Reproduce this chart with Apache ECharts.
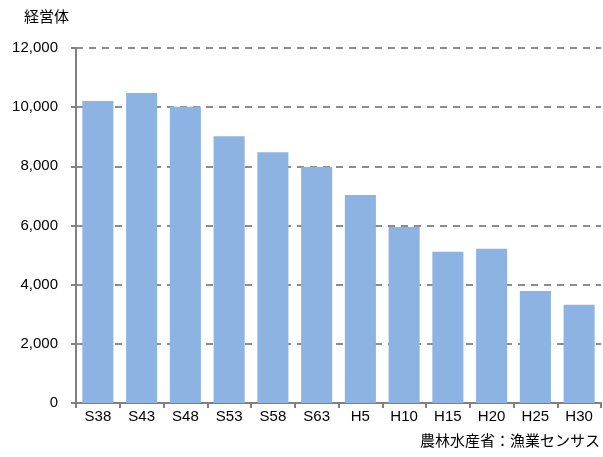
<!DOCTYPE html>
<html>
<head>
<meta charset="utf-8">
<script src="https://cdn.jsdelivr.net/npm/echarts@6/dist/echarts.min.js"></script>
<style>
  html, body { margin: 0; padding: 0; background: #fff; }
  #main { width: 603px; height: 457px; }
</style>
</head>
<body>
<div id="main"></div>
<script>
// 調査年（漁業センサス）
var years = ['S38', 'S43', 'S48', 'S53', 'S58', 'S63', 'H5', 'H10', 'H15', 'H20', 'H25', 'H30'];
// 経営体数
var counts = [10210, 10480, 10010, 9020, 8480, 7980, 7030, 5950, 5110, 5210, 3790, 3320];

var yMin = 0, yMax = 12000, yStep = 2000;

var myChart = echarts.init(document.getElementById('main'));
myChart.setOption({
  animation: false,
  textStyle: { fontFamily: 'Liberation Sans, Arial, sans-serif' },
  grid: { left: 76, right: 2, top: 48, bottom: 54 },
  graphic: [
    {
      type: 'text', left: 24, top: 9,
      style: { text: '経営体', font: '15px "Noto Sans CJK JP"', fill: '#000' }
    },
    {
      type: 'text', right: 3, top: 433,
      style: { text: '農林水産省：漁業センサス', font: '15px "Noto Sans CJK JP"', fill: '#000' }
    }
  ],
  xAxis: {
    type: 'category',
    data: years,
    axisLine: { lineStyle: { color: '#808080', width: 2 } },
    axisTick: { show: true, length: 5, lineStyle: { color: '#808080', width: 2 } },
    axisLabel: { color: '#000', fontSize: 15, margin: 6 }
  },
  yAxis: {
    type: 'value',
    min: yMin, max: yMax, interval: yStep,
    axisLine: { show: true, lineStyle: { color: '#808080', width: 2 } },
    axisTick: { show: true, inside: false, length: 5, lineStyle: { color: '#808080', width: 2 } },
    axisLabel: {
      color: '#000', fontSize: 15, margin: 18,
      formatter: function (v) { return v.toLocaleString('en-US'); }
    },
    splitLine: {
      show: true,
      lineStyle: { color: '#8c8c8c', width: 2, type: [7, 6] }
    }
  },
  series: [{
    type: 'bar',
    data: counts,
    barCategoryGap: '29%',
    itemStyle: { color: '#8db3e2' }
  }]
});
</script>
</body>
</html>
